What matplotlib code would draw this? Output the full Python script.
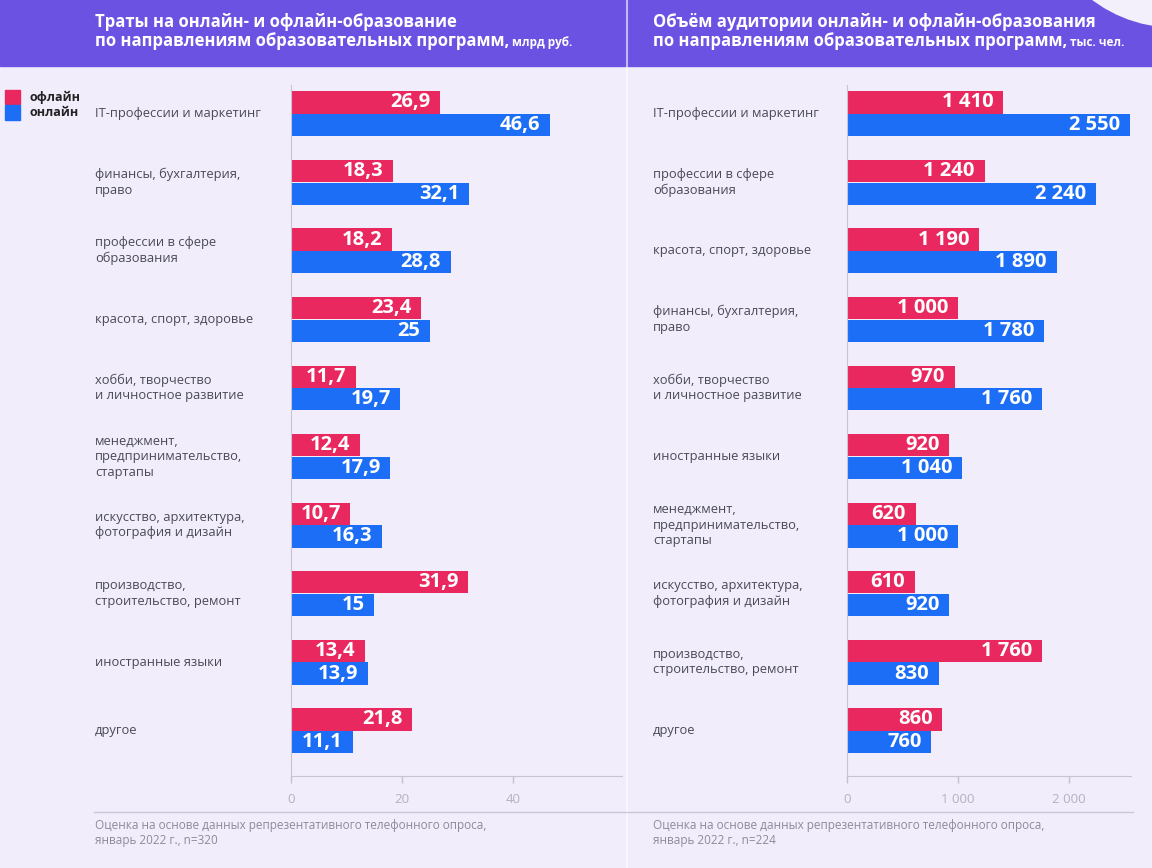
import matplotlib.pyplot as plt
import matplotlib.transforms as mtransforms
from matplotlib.patches import Rectangle, Ellipse

plt.rcParams['font.family'] = ['Open Sans', 'DejaVu Sans']

# left panel: spending, bn rub
cats_spend = ['IT-профессии и маркетинг', 'финансы, бухгалтерия,\nправо',
              'профессии в сфере\nобразования', 'красота, спорт, здоровье',
              'хобби, творчество\nи личностное развитие',
              'менеджмент,\nпредпринимательство,\nстартапы',
              'искусство, архитектура,\nфотография и дизайн',
              'производство,\nстроительство, ремонт', 'иностранные языки', 'другое']
spend_off = [26.9, 18.3, 18.2, 23.4, 11.7, 12.4, 10.7, 31.9, 13.4, 21.8]
spend_on = [46.6, 32.1, 28.8, 25, 19.7, 17.9, 16.3, 15, 13.9, 11.1]

# right panel: audience, thousand people
cats_aud = ['IT-профессии и маркетинг', 'профессии в сфере\nобразования',
            'красота, спорт, здоровье', 'финансы, бухгалтерия,\nправо',
            'хобби, творчество\nи личностное развитие', 'иностранные языки',
            'менеджмент,\nпредпринимательство,\nстартапы',
            'искусство, архитектура,\nфотография и дизайн',
            'производство,\nстроительство, ремонт', 'другое']
aud_off = [1410, 1240, 1190, 1000, 970, 920, 620, 610, 1760, 860]
aud_on = [2550, 2240, 1890, 1780, 1760, 1040, 1000, 920, 830, 760]

PINK = '#e8285f'
BLUE = '#1b6ef5'
BG = '#f1edfb'
HEAD = '#6b52e3'

W, H = 1152, 868
fig = plt.figure(figsize=(W / 100, H / 100), dpi=100, facecolor=BG)


def px(x0, y0, x1, y1):
    # pixel box (top-left origin) -> figure fraction rect
    return [x0 / W, 1 - y1 / H, (x1 - x0) / W, (y1 - y0) / H]


# header band, corner decoration, divider
fig.patches.append(Rectangle((0, 1 - 66 / H), 1, 66 / H, transform=fig.transFigure,
                             color=HEAD, zorder=0))
fig.patches.append(Ellipse((1175 / W, 1 + 110 / H), 2 * 137 / W, 2 * 137 / H,
                           transform=fig.transFigure, color='#f3f0fc', zorder=1))
fig.lines.append(plt.Line2D([627 / W, 627 / W], [0, 1], transform=fig.transFigure,
                            color='white', alpha=0.6, lw=1.5))
fig.lines.append(plt.Line2D([94 / W, 1133 / W], [1 - 812 / H, 1 - 812 / H],
                            transform=fig.transFigure, color='#cbc7d8', lw=1))

# legend
fig.patches.append(Rectangle((5 / W, 1 - 104 / H), 15 / W, 14 / H,
                             transform=fig.transFigure, color=PINK))
fig.patches.append(Rectangle((5 / W, 1 - 120 / H), 15 / W, 15 / H,
                             transform=fig.transFigure, color=BLUE))
fig.text(30 / W, 1 - 97 / H, 'офлайн', fontsize=9, fontweight='bold', color='#222',
         va='center')
fig.text(30 / W, 1 - 113 / H, 'онлайн', fontsize=9, fontweight='bold', color='#222',
         va='center')


def panel(rect, cats, off, on, xmax, ticks, ticklabels, fmt, label_x):
    ax = fig.add_axes(rect)
    ax.set_facecolor('none')
    y = list(range(len(cats)))
    h = 0.325
    b1 = ax.barh([v - 0.165 for v in y], off, height=h, color=PINK)
    b2 = ax.barh([v + 0.165 for v in y], on, height=h, color=BLUE)
    for bars, vals in ((b1, off), (b2, on)):
        ax.bar_label(bars, labels=[fmt(v) for v in vals], padding=-7, color='white',
                     fontsize=14.5, fontweight='bold')
    for t in ax.texts:
        t.set_ha('right')
    ax.set_xlim(0, xmax)
    ax.set_ylim(9.66, -0.42)
    ax.set_yticks([])
    ax.set_xticks(ticks)
    ax.set_xticklabels(ticklabels)
    ax.tick_params(axis='x', colors='#c4c0d2', labelcolor='#b5b1c4', labelsize=9.5,
                   length=5, width=1, pad=7)
    for s in ['top', 'right']:
        ax.spines[s].set_visible(False)
    for s in ['left', 'bottom']:
        ax.spines[s].set_color('#c8c4d4')
    tr = mtransforms.blended_transform_factory(fig.transFigure, ax.transData)
    for i, c in enumerate(cats):
        ax.text(label_x / W, i, c, transform=tr, fontsize=9.3, color='#4a4a55',
                va='center', ha='left', linespacing=1.25)
    return ax


def fmt_spend(v):
    return ('%g' % v).replace('.', ',')


def fmt_aud(v):
    return '{:,}'.format(v).replace(',', ' ')


panel(px(291, 85, 622, 776), cats_spend, spend_off, spend_on, 59.6,
      [0, 20, 40], ['0', '20', '40'], fmt_spend, 95)
panel(px(847, 85, 1131, 776), cats_aud, aud_off, aud_on, 2560,
      [0, 1000, 2000], ['0', '1 000', '2 000'], fmt_aud, 653)

# titles
titles = [(95, 'Траты на онлайн- и офлайн-образование', ' млрд руб.'),
          (653, 'Объём аудитории онлайн- и офлайн-образования', ' тыс. чел.')]
seconds = []
for x, line1, unit in titles:
    fig.text(x / W, 1 - 22 / H, line1, fontsize=12, fontweight='bold', color='white',
             va='center')
    t2 = fig.text(x / W, 1 - 46 / H, 'по направлениям образовательных программ,',
                  fontsize=12, fontweight='bold', color='white', va='baseline')
    seconds.append((t2, unit))

fig.canvas.draw()
r = fig.canvas.get_renderer()
for t2, unit in seconds:
    bb = t2.get_window_extent(r)
    fig.text(bb.x1 / W, 1 - 46 / H, unit, fontsize=8.5, fontweight='bold',
             color='white', va='baseline')

# footers
fig.text(95 / W, 1 - 833 / H,
         'Оценка на основе данных репрезентативного телефонного опроса,\nянварь 2022 г., n=320',
         fontsize=8.5, color='#8e8a9c', va='center', linespacing=1.15)
fig.text(653 / W, 1 - 833 / H,
         'Оценка на основе данных репрезентативного телефонного опроса,\nянварь 2022 г., n=224',
         fontsize=8.5, color='#8e8a9c', va='center', linespacing=1.15)

fig.savefig('out.png', dpi=100, facecolor=BG)
